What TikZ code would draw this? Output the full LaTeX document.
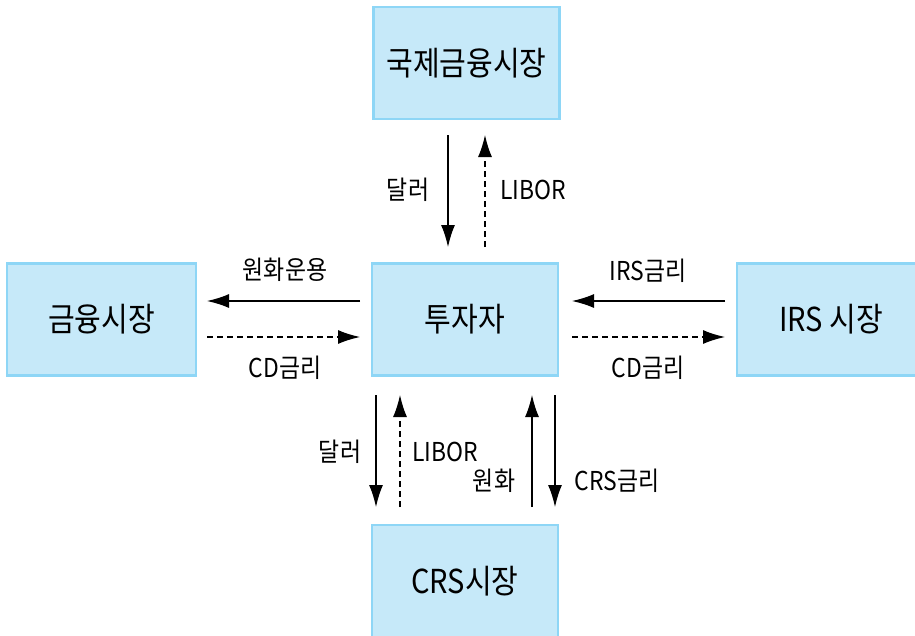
\documentclass[tikz,border=0pt]{standalone}
\usepackage{fontspec}
\setmainfont[FakeStretch=0.88]{Noto Sans CJK KR}
\usetikzlibrary{arrows.meta}
\definecolor{boxfill}{HTML}{C6E9F9}
\definecolor{boxline}{HTML}{8ED6F6}
\begin{document}
\begin{tikzpicture}[x=1pt,y=-1pt,
  market/.style={draw=boxline,line width=2.6pt,fill=boxfill,minimum width=186pt,minimum height=112pt,inner sep=0pt,font=\fontsize{33}{36}\selectfont},
  lbl/.style={inner sep=0pt,font=\fontsize{26}{28}\selectfont},
  flow/.style={line width=1.3pt,-{Latex[length=22pt,width=14pt]}},
  rate/.style={flow,dash pattern=on 6pt off 4pt}]
\useasboundingbox (0,0) rectangle (915,635);
% boxes
\node[market] (intl) at (466.5,63) {국제금융시장};
\node[market] (inv) at (465,319.5) {투자자};
\node[market,minimum width=189pt] (fin) at (101.5,319.5) {금융시장};
\node[market,minimum width=188pt] (irs) at (831,319.5) {IRS 시장};
\node[market] (crs) at (465,581) {CRS시장};
% arrow end points
\coordinate (t1a) at (448,135); \coordinate (t1b) at (448,247);
\coordinate (t2a) at (485,247); \coordinate (t2b) at (485,135);
\coordinate (l1a) at (360,301); \coordinate (l1b) at (207,301);
\coordinate (l2a) at (207,337); \coordinate (l2b) at (360,337);
\coordinate (r1a) at (725,301); \coordinate (r1b) at (572,301);
\coordinate (r2a) at (572,337); \coordinate (r2b) at (725,337);
\coordinate (b1a) at (376,395); \coordinate (b1b) at (376,507);
\coordinate (b2a) at (400,507); \coordinate (b2b) at (400,395);
\coordinate (b3a) at (532,507); \coordinate (b3b) at (532,395);
\coordinate (b4a) at (555,395); \coordinate (b4b) at (555,507);
% arrows
\draw[flow] (t1a) -- (t1b);
\draw[rate] (t2a) -- (t2b);
\draw[flow] (l1a) -- (l1b);
\draw[rate] (l2a) -- (l2b);
\draw[flow] (r1a) -- (r1b);
\draw[rate] (r2a) -- (r2b);
\draw[flow] (b1a) -- (b1b);
\draw[rate] (b2a) -- (b2b);
\draw[flow] (b3a) -- (b3b);
\draw[flow] (b4a) -- (b4b);
% labels
\node[lbl] (lt1) at (408,190) {달러};
\node[lbl] (lt2) at (533,190) {LIBOR};
\node[lbl] (ll1) at (285,270) {원화운용};
\node[lbl] (ll2) at (285,368) {CD금리};
\node[lbl] (lr1) at (648,271) {IRS금리};
\node[lbl] (lr2) at (648,368) {CD금리};
\node[lbl] (lb1) at (340,452) {달러};
\node[lbl] (lb2) at (445,452) {LIBOR};
\node[lbl] (lb3) at (494,481) {원화};
\node[lbl] (lb4) at (617,481) {CRS금리};
\end{tikzpicture}
\end{document}
